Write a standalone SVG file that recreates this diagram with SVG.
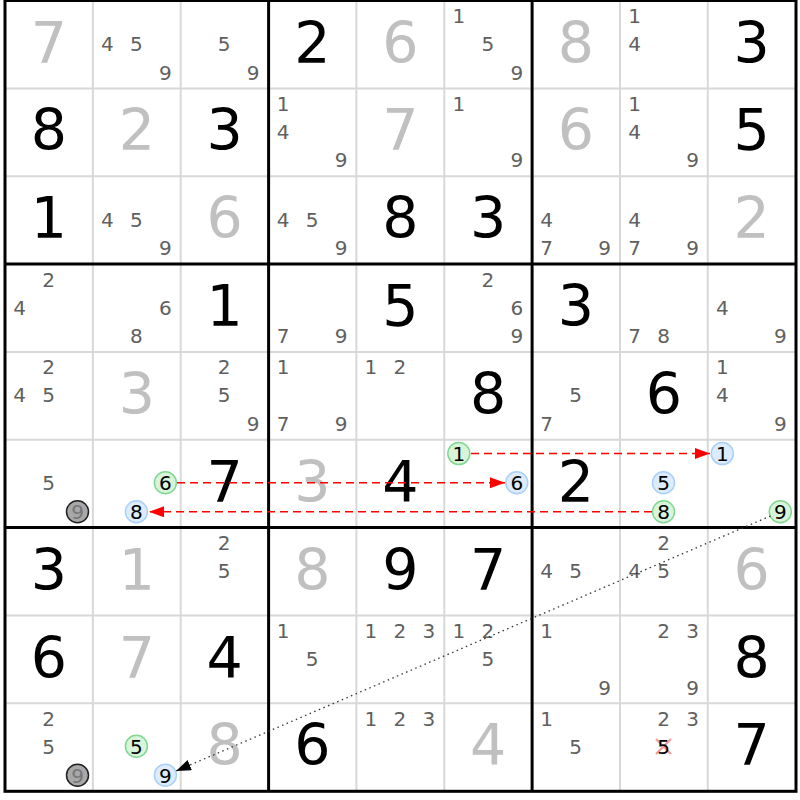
<svg xmlns="http://www.w3.org/2000/svg" width="800" height="800" viewBox="0 0 800 800">
<style>
text{font-family:"DejaVu Sans","Verdana",sans-serif;text-anchor:middle}
.g{font-size:57px;fill:#000}
.s{font-size:57px;fill:#c0c0c0}
.c{font-size:20px;fill:#606060}
.h{font-size:20px;fill:#000}
.hg{font-size:20px;fill:#777}
.thin{stroke:#d8d8d8;stroke-width:2}
.thick{stroke:#000;stroke-width:3}
.cg{fill:#d8f5dc;stroke:#80d890;stroke-width:1.5}
.cb{fill:#dcecfc;stroke:#a8d0f8;stroke-width:1.5}
.cx{fill:#a8a8a8;stroke:#222;stroke-width:1.5}
.red{stroke:#ff0000;stroke-width:1.5;stroke-dasharray:8 5;fill:none}
.dot{stroke:#333;stroke-width:1.3;stroke-dasharray:1.5 3.5;fill:none}
</style>
<defs>
<marker id="ar" markerUnits="userSpaceOnUse" markerWidth="16" markerHeight="12" refX="15" refY="5.5" orient="auto"><path d="M0,0 L15,5.5 L0,11 z" fill="#ff0000"/></marker>
<marker id="ak" markerUnits="userSpaceOnUse" markerWidth="16" markerHeight="12" refX="15" refY="5.5" orient="auto"><path d="M0,0 L15,5.5 L0,11 z" fill="#000"/></marker>
</defs>
<rect width="800" height="800" fill="#fff"/>
<g id="thin-grid">
<line class="thin" x1="92.9" y1="0" x2="92.9" y2="792"/>
<line class="thin" x1="180.7" y1="0" x2="180.7" y2="792"/>
<line class="thin" x1="356.4" y1="0" x2="356.4" y2="792"/>
<line class="thin" x1="444.3" y1="0" x2="444.3" y2="792"/>
<line class="thin" x1="620" y1="0" x2="620" y2="792"/>
<line class="thin" x1="707.8" y1="0" x2="707.8" y2="792"/>
<line class="thin" x1="5" y1="88.4" x2="796" y2="88.4"/>
<line class="thin" x1="5" y1="176.2" x2="796" y2="176.2"/>
<line class="thin" x1="5" y1="351.9" x2="796" y2="351.9"/>
<line class="thin" x1="5" y1="439.8" x2="796" y2="439.8"/>
<line class="thin" x1="5" y1="615.5" x2="796" y2="615.5"/>
<line class="thin" x1="5" y1="703.3" x2="796" y2="703.3"/>
</g>
<g id="r0">
<g id="r0c0"><text class="s" x="48.9" y="62.5">7</text></g>
<g id="r0c1"><text class="c" x="107.4" y="51">4</text><text class="c" x="136.4" y="51">5</text><text class="c" x="165.4" y="79.5">9</text></g>
<g id="r0c2"><text class="c" x="224.2" y="51">5</text><text class="c" x="253.2" y="79.5">9</text></g>
<g id="r0c3"><text class="g" x="312.5" y="62.5">2</text></g>
<g id="r0c4"><text class="s" x="400.3" y="62.5">6</text></g>
<g id="r0c5"><text class="c" x="458.8" y="23">1</text><text class="c" x="487.8" y="51">5</text><text class="c" x="516.8" y="79.5">9</text></g>
<g id="r0c6"><text class="s" x="576" y="62.5">8</text></g>
<g id="r0c7"><text class="c" x="634.5" y="23">1</text><text class="c" x="634.5" y="51">4</text></g>
<g id="r0c8"><text class="g" x="751.7" y="62.5">3</text></g>
</g>
<g id="r1">
<g id="r1c0"><text class="g" x="48.9" y="150.4">8</text></g>
<g id="r1c1"><text class="s" x="136.8" y="150.4">2</text></g>
<g id="r1c2"><text class="g" x="224.6" y="150.4">3</text></g>
<g id="r1c3"><text class="c" x="283.1" y="110.9">1</text><text class="c" x="283.1" y="138.9">4</text><text class="c" x="341.1" y="167.4">9</text></g>
<g id="r1c4"><text class="s" x="400.3" y="150.4">7</text></g>
<g id="r1c5"><text class="c" x="458.8" y="110.9">1</text><text class="c" x="516.8" y="167.4">9</text></g>
<g id="r1c6"><text class="s" x="576" y="150.4">6</text></g>
<g id="r1c7"><text class="c" x="634.5" y="110.9">1</text><text class="c" x="634.5" y="138.9">4</text><text class="c" x="692.5" y="167.4">9</text></g>
<g id="r1c8"><text class="g" x="751.7" y="150.4">5</text></g>
</g>
<g id="r2">
<g id="r2c0"><text class="g" x="48.9" y="238.2">1</text></g>
<g id="r2c1"><text class="c" x="107.4" y="226.7">4</text><text class="c" x="136.4" y="226.7">5</text><text class="c" x="165.4" y="255.2">9</text></g>
<g id="r2c2"><text class="s" x="224.6" y="238.2">6</text></g>
<g id="r2c3"><text class="c" x="283.1" y="226.7">4</text><text class="c" x="312.1" y="226.7">5</text><text class="c" x="341.1" y="255.2">9</text></g>
<g id="r2c4"><text class="g" x="400.3" y="238.2">8</text></g>
<g id="r2c5"><text class="g" x="488.2" y="238.2">3</text></g>
<g id="r2c6"><text class="c" x="546.6" y="226.7">4</text><text class="c" x="546.6" y="255.2">7</text><text class="c" x="604.6" y="255.2">9</text></g>
<g id="r2c7"><text class="c" x="634.5" y="226.7">4</text><text class="c" x="634.5" y="255.2">7</text><text class="c" x="692.5" y="255.2">9</text></g>
<g id="r2c8"><text class="s" x="751.7" y="238.2">2</text></g>
</g>
<g id="r3">
<g id="r3c0"><text class="c" x="48.5" y="286.6">2</text><text class="c" x="19.5" y="314.6">4</text></g>
<g id="r3c1"><text class="c" x="165.4" y="314.6">6</text><text class="c" x="136.4" y="343.1">8</text></g>
<g id="r3c2"><text class="g" x="224.6" y="326.1">1</text></g>
<g id="r3c3"><text class="c" x="283.1" y="343.1">7</text><text class="c" x="341.1" y="343.1">9</text></g>
<g id="r3c4"><text class="g" x="400.3" y="326.1">5</text></g>
<g id="r3c5"><text class="c" x="487.8" y="286.6">2</text><text class="c" x="516.8" y="314.6">6</text><text class="c" x="516.8" y="343.1">9</text></g>
<g id="r3c6"><text class="g" x="576" y="326.1">3</text></g>
<g id="r3c7"><text class="c" x="634.5" y="343.1">7</text><text class="c" x="663.5" y="343.1">8</text></g>
<g id="r3c8"><text class="c" x="722.3" y="314.6">4</text><text class="c" x="780.3" y="343.1">9</text></g>
</g>
<g id="r4">
<g id="r4c0"><text class="c" x="48.5" y="374.4">2</text><text class="c" x="19.5" y="402.4">4</text><text class="c" x="48.5" y="402.4">5</text></g>
<g id="r4c1"><text class="s" x="136.8" y="413.9">3</text></g>
<g id="r4c2"><text class="c" x="224.2" y="374.4">2</text><text class="c" x="224.2" y="402.4">5</text><text class="c" x="253.2" y="430.9">9</text></g>
<g id="r4c3"><text class="c" x="283.1" y="374.4">1</text><text class="c" x="283.1" y="430.9">7</text><text class="c" x="341.1" y="430.9">9</text></g>
<g id="r4c4"><text class="c" x="370.9" y="374.4">1</text><text class="c" x="399.9" y="374.4">2</text></g>
<g id="r4c5"><text class="g" x="488.2" y="413.9">8</text></g>
<g id="r4c6"><text class="c" x="575.6" y="402.4">5</text><text class="c" x="546.6" y="430.9">7</text></g>
<g id="r4c7"><text class="g" x="663.9" y="413.9">6</text></g>
<g id="r4c8"><text class="c" x="722.3" y="374.4">1</text><text class="c" x="722.3" y="402.4">4</text><text class="c" x="780.3" y="430.9">9</text></g>
</g>
<g id="r5">
<g id="r5c0"><text class="c" x="48.5" y="490.3">5</text><circle class="cx" cx="77.5" cy="511.8" r="11"/><text class="hg" x="77.5" y="519">9</text></g>
<g id="r5c1"><circle class="cg" cx="165.4" cy="482.8" r="11"/><text class="h" x="165.4" y="490">6</text><circle class="cb" cx="136.4" cy="511.8" r="11"/><text class="h" x="136.4" y="519">8</text></g>
<g id="r5c2"><text class="g" x="224.6" y="501.8">7</text></g>
<g id="r5c3"><text class="s" x="312.5" y="501.8">3</text></g>
<g id="r5c4"><text class="g" x="400.3" y="501.8">4</text></g>
<g id="r5c5"><circle class="cg" cx="458.8" cy="453.6" r="11"/><text class="h" x="458.8" y="460.8">1</text><circle class="cb" cx="516.8" cy="482.8" r="11"/><text class="h" x="516.8" y="490">6</text></g>
<g id="r5c6"><text class="g" x="576" y="501.8">2</text></g>
<g id="r5c7"><circle class="cb" cx="663.5" cy="482.8" r="11"/><text class="h" x="663.5" y="490">5</text><circle class="cg" cx="663.5" cy="511.8" r="11"/><text class="h" x="663.5" y="519">8</text></g>
<g id="r5c8"><circle class="cb" cx="722.3" cy="453.6" r="11"/><text class="h" x="722.3" y="460.8">1</text><circle class="cg" cx="780.3" cy="511.8" r="11"/><text class="h" x="780.3" y="519">9</text></g>
</g>
<g id="r6">
<g id="r6c0"><text class="g" x="48.9" y="589.6">3</text></g>
<g id="r6c1"><text class="s" x="136.8" y="589.6">1</text></g>
<g id="r6c2"><text class="c" x="224.2" y="550.1">2</text><text class="c" x="224.2" y="578.1">5</text></g>
<g id="r6c3"><text class="s" x="312.5" y="589.6">8</text></g>
<g id="r6c4"><text class="g" x="400.3" y="589.6">9</text></g>
<g id="r6c5"><text class="g" x="488.2" y="589.6">7</text></g>
<g id="r6c6"><text class="c" x="546.6" y="578.1">4</text><text class="c" x="575.6" y="578.1">5</text></g>
<g id="r6c7"><text class="c" x="663.5" y="550.1">2</text><text class="c" x="634.5" y="578.1">4</text><text class="c" x="663.5" y="578.1">5</text></g>
<g id="r6c8"><text class="s" x="751.7" y="589.6">6</text></g>
</g>
<g id="r7">
<g id="r7c0"><text class="g" x="48.9" y="677.5">6</text></g>
<g id="r7c1"><text class="s" x="136.8" y="677.5">7</text></g>
<g id="r7c2"><text class="g" x="224.6" y="677.5">4</text></g>
<g id="r7c3"><text class="c" x="283.1" y="638">1</text><text class="c" x="312.1" y="666">5</text></g>
<g id="r7c4"><text class="c" x="370.9" y="638">1</text><text class="c" x="399.9" y="638">2</text><text class="c" x="428.9" y="638">3</text></g>
<g id="r7c5"><text class="c" x="458.8" y="638">1</text><text class="c" x="487.8" y="638">2</text><text class="c" x="487.8" y="666">5</text></g>
<g id="r7c6"><text class="c" x="546.6" y="638">1</text><text class="c" x="604.6" y="694.5">9</text></g>
<g id="r7c7"><text class="c" x="663.5" y="638">2</text><text class="c" x="692.5" y="638">3</text><text class="c" x="692.5" y="694.5">9</text></g>
<g id="r7c8"><text class="g" x="751.7" y="677.5">8</text></g>
</g>
<g id="r8">
<g id="r8c0"><text class="c" x="48.5" y="725.8">2</text><text class="c" x="48.5" y="753.8">5</text><circle class="cx" cx="77.5" cy="775.3" r="11"/><text class="hg" x="77.5" y="782.5">9</text></g>
<g id="r8c1"><circle class="cg" cx="136.4" cy="746.3" r="11"/><text class="h" x="136.4" y="753.5">5</text><circle class="cb" cx="165.4" cy="775.3" r="11"/><text class="h" x="165.4" y="782.5">9</text></g>
<g id="r8c2"><text class="s" x="224.6" y="765.3">8</text></g>
<g id="r8c3"><text class="g" x="312.5" y="765.3">6</text></g>
<g id="r8c4"><text class="c" x="370.9" y="725.8">1</text><text class="c" x="399.9" y="725.8">2</text><text class="c" x="428.9" y="725.8">3</text></g>
<g id="r8c5"><text class="s" x="488.2" y="765.3">4</text></g>
<g id="r8c6"><text class="c" x="546.6" y="725.8">1</text><text class="c" x="575.6" y="753.8">5</text></g>
<g id="r8c7"><text class="c" x="663.5" y="725.8">2</text><text class="c" x="692.5" y="725.8">3</text><path d="M656,739 L671,754 M656,754 L671,739" stroke="#f08080" stroke-width="2.2" opacity="0.8"/><text class="h" x="663.5" y="753.8">5</text></g>
<g id="r8c8"><text class="g" x="751.7" y="765.3">7</text></g>
</g>
<g id="thick-grid">
<line class="thick" x1="268.6" y1="0" x2="268.6" y2="792"/>
<line class="thick" x1="532.1" y1="0" x2="532.1" y2="792"/>
<line class="thick" x1="5" y1="264.1" x2="796" y2="264.1"/>
<line class="thick" x1="5" y1="527.6" x2="796" y2="527.6"/>
<rect x="5" y="0.5" width="791" height="790.8" fill="none" stroke="#000" stroke-width="3"/>
</g>
<g id="connectors">
<line class="red" x1="471" y1="453.6" x2="710" y2="453.6" marker-end="url(#ar)"/>
<line class="red" x1="177" y1="482.8" x2="505" y2="482.8" marker-end="url(#ar)"/>
<line class="red" x1="652" y1="511.8" x2="149" y2="511.8" marker-end="url(#ar)"/>
<line class="dot" x1="770.5" y1="516" x2="176" y2="771" marker-end="url(#ak)"/>
</g>
</svg>
